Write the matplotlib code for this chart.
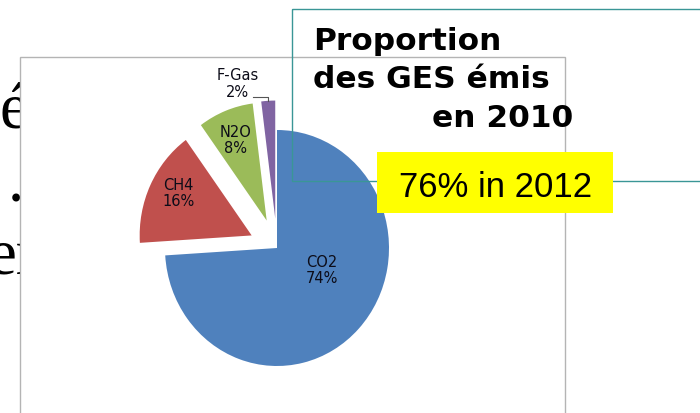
import numpy as np
import matplotlib
matplotlib.use("Agg")
import matplotlib.pyplot as plt
from matplotlib.patches import Rectangle

# Data
gases = ["CO2", "CH4", "N2O", "F-Gas"]
shares = [74, 16, 8, 2]
title_lines = ["Proportion", "des GES émis", "en 2010"]
note = "76% in 2012"

# Style
colors = ["#4f81bd", "#c0504d", "#9bbb59", "#8064a2"]
explode = [0, 0.25, 0.25, 0.25]
label_pos = [(0.40, -0.19), (-0.88, 0.46), (-0.37, 0.91), (-0.35, 1.39)]
serif = ["Liberation Serif", "DejaVu Serif"]
narrow = ["Liberation Sans Narrow", "DejaVu Sans"]

W, H = 700, 413
fig = plt.figure(figsize=(7, 4.13), dpi=100)

# slide text behind the picture
back = fig.add_axes([0, 0, 1, 1], zorder=0)
back.set_xlim(0, W)
back.set_ylim(H, 0)
back.axis("off")
for x, y, s, ha in [(28, 127, "é", "right"), (8, 202, ".", "left"),
                    (-13, 273, "er", "left")]:
    back.text(x, y, s, ha=ha, va="baseline", fontsize=47, family=serif,
              zorder=0)
back.add_patch(Rectangle((20, 57), 545, 400, facecolor="white",
                         edgecolor="#b4b4b4", lw=1, zorder=2))

# pie chart
cx, cy, rx, ry = 277, 248, 112, 118
ax = fig.add_axes([(cx - 1.5 * rx) / W, (H - cy - 1.7 * ry) / H,
                   3 * rx / W, 3.4 * ry / H], zorder=1)
wedges, _ = ax.pie(shares, explode=explode, colors=colors, startangle=90,
                   counterclock=False, wedgeprops=dict(linewidth=0))
ax.set_aspect("auto")
ax.set_xlim(-1.5, 1.5)
ax.set_ylim(-1.7, 1.7)
ax.axis("off")

for g, s, (x, y) in zip(gases, shares, label_pos):
    ax.text(x, y, f"{g}\n{s}%", ha="center", va="center", fontsize=10.5,
            linespacing=1.1, color="#0c0c18", family=narrow)

# leader line for the small slice
w = wedges[3]
th = np.deg2rad((w.theta1 + w.theta2) / 2)
tx = w.center[0] + np.cos(th)
ty = w.center[1] + np.sin(th)
ax.plot([-0.21, tx, tx], [1.28, 1.28, ty], color="#555555", lw=0.8)

# overlay box, title and note
front = fig.add_axes([0, 0, 1, 1], zorder=2)
front.set_xlim(0, W)
front.set_ylim(H, 0)
front.axis("off")
front.patch.set_visible(False)
front.add_patch(Rectangle((292, 9), 500, 172, fill=False,
                          edgecolor="#3a9696", lw=1))
front.text(313, 50, title_lines[0], fontsize=22.5, fontweight="bold",
           family="DejaVu Sans", va="baseline")
front.text(313, 88, title_lines[1], fontsize=22.5, fontweight="bold",
           family="DejaVu Sans", va="baseline")
front.text(432, 127, title_lines[2], fontsize=22.5, fontweight="bold",
           family="DejaVu Sans", va="baseline")
front.add_patch(Rectangle((377, 152), 236, 61, facecolor="#ffff00",
                          lw=0, zorder=3))
front.text(495.5, 197, note, ha="center", va="baseline", fontsize=25,
           family=["Liberation Sans", "DejaVu Sans"], zorder=4)

fig.savefig("out.png", dpi=100)
